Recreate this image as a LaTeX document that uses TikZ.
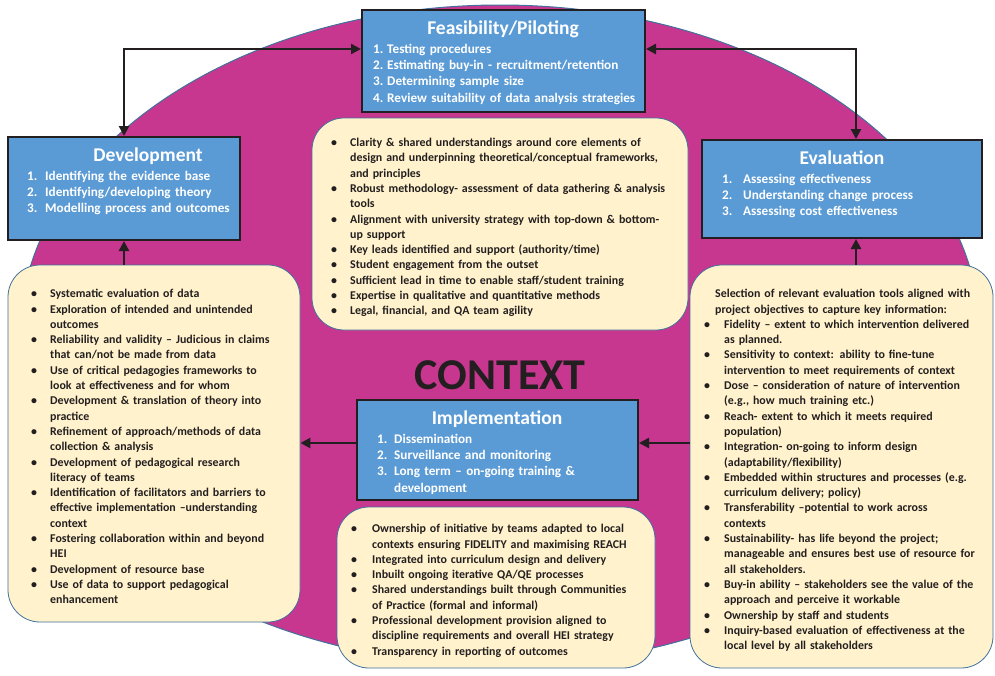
\documentclass[tikz,border=0pt]{standalone}
\usepackage{fontspec}
\setmainfont{Carlito}
\usetikzlibrary{arrows.meta,calc}
\definecolor{ctxmag}{HTML}{C8378F}
\definecolor{boxblue}{HTML}{5B9BD5}
\definecolor{cream}{HTML}{FFF2CC}
\definecolor{edgeblue}{HTML}{41719C}
\definecolor{ink}{HTML}{231F20}
\newcommand\li[3]{\par\noindent\hangindent=#1\hangafter=1\makebox[#1][l]{\strut#2}#3}
\newcommand\nl{\newline\strut}
\newcommand\bul{\hspace*{-4pt}\textbullet}
\tikzset{
  bluebox/.style={draw=ink, line width=2pt, fill=boxblue, rectangle, inner sep=0pt},
  creambox/.style={draw=edgeblue, line width=0.8pt, fill=cream, rectangle, rounded corners=32pt, inner sep=0pt},
  boxtitle/.style={text=white, font={\fontsize{19.5}{22}\selectfont\bfseries}, inner sep=0pt, anchor=base},
  boxitems/.style={text=white, font={\fontsize{13.2}{16.4}\selectfont\bfseries}, inner sep=0pt, anchor=north west, text width=#1},
  creamtext/.style={text=ink, font={\fontsize{11.9}{15.3}\selectfont\bfseries}, inner sep=0pt, anchor=north west, text width=#1},
  conn/.style={draw=ink, line width=2.6pt, -{Triangle[length=10pt,width=10pt]}},
  dconn/.style={draw=ink, line width=2.6pt, {Triangle[length=10pt,width=10pt]}-{Triangle[length=10pt,width=10pt]}}
}
\begin{document}
\begin{tikzpicture}[x=1pt,y=-1pt]
\useasboundingbox (0,0) rectangle (995,675);
\fill[white] (0,0) rectangle (995,675);
% context ellipse
\draw[fill=ctxmag, draw=edgeblue, line width=1pt] (500,335) ellipse [x radius=480pt, y radius=330pt];
\node[font={\fontsize{44}{48}\selectfont\bfseries}, text=ink, anchor=base, inner sep=0pt] (ctx) at (500,389) {CONTEXT};

% blue boxes
\node[bluebox, minimum width=283pt, minimum height=102pt] (feas) at (503.5,61) {};
\node[bluebox, minimum width=232pt, minimum height=103pt] (dev) at (124,188.5) {};
\node[bluebox, minimum width=280pt, minimum height=98pt] (eval) at (842,189) {};
\node[bluebox, minimum width=281pt, minimum height=100pt] (impl) at (497.5,450) {};

\node[boxtitle] (feast) at (503,34) {Feasibility/Piloting};
\node[boxitems=270pt] (feasi) at (373,36.5) {%
\li{14pt}{1.}{Testing procedures}
\li{14pt}{2.}{Estimating buy-in - recruitment/retention}
\li{14pt}{3.}{Determining sample size}
\li{14pt}{4.}{Review suitability of data analysis strategies}\par};

\node[boxtitle] (devt) at (148,161) {Development};
\node[boxitems=210pt] (devi) at (27,163.5) {%
\li{18pt}{1.}{Identifying the evidence base}
\li{18pt}{2.}{Identifying/developing theory}
\li{18pt}{3.}{Modelling process and outcomes}\par};

\node[boxtitle] (evalt) at (842,164) {Evaluation};
\node[boxitems=250pt] (evali) at (722,166.5) {%
\li{21pt}{1.}{Assessing effectiveness}
\li{21pt}{2.}{Understanding change process}
\li{21pt}{3.}{Assessing cost effectiveness}\par};

\node[boxtitle] (implt) at (497,424) {Implementation};
\node[boxitems=255pt] (impli) at (377,426.5) {%
\li{17pt}{1.}{Dissemination}
\li{17pt}{2.}{Surveillance and monitoring}
\li{17pt}{3.}{Long term -- on-going training \&\nl development}\par};

% cream boxes
\node[creambox, minimum width=376pt, minimum height=212pt] (mid) at (500,224) {};
\node[creambox, minimum width=292pt, minimum height=357pt] (left) at (154,443.5) {};
\node[creambox, minimum width=303pt, minimum height=403pt] (right) at (841.5,466.5) {};
\node[creambox, minimum width=318pt, minimum height=161pt] (bot) at (496,587.5) {};

\node[creamtext=345pt] (midt) at (335,131) {%
\li{15pt}{\bul}{Clarity \& shared understandings around core elements of\nl design and underpinning theoretical/conceptual frameworks,\nl and principles}
\li{15pt}{\bul}{Robust methodology- assessment of data gathering \& analysis\nl tools}
\li{15pt}{\bul}{Alignment with university strategy with top-down \& bottom-\nl up support}
\li{15pt}{\bul}{Key leads identified and support (authority/time)}
\li{15pt}{\bul}{Student engagement from the outset}
\li{15pt}{\bul}{Sufficient lead in time to enable staff/student training}
\li{15pt}{\bul}{Expertise in qualitative and quantitative methods}
\li{15pt}{\bul}{Legal, financial, and QA team agility}\par};

\node[creamtext=260pt] (leftt) at (35,282.2) {%
\li{15pt}{\bul}{Systematic evaluation of data}
\li{15pt}{\bul}{Exploration of intended and unintended\nl outcomes}
\li{15pt}{\bul}{Reliability and validity -- Judicious in claims\nl that can/not be made from data}
\li{15pt}{\bul}{Use of critical pedagogies frameworks to\nl look at effectiveness and for whom}
\li{15pt}{\bul}{Development \& translation of theory into\nl practice}
\li{15pt}{\bul}{Refinement of approach/methods of data\nl collection \& analysis}
\li{15pt}{\bul}{Development of pedagogical research\nl literacy of teams}
\li{15pt}{\bul}{Identification of facilitators and barriers to\nl effective implementation --understanding\nl context}
\li{15pt}{\bul}{Fostering collaboration within and beyond\nl HEI}
\li{15pt}{\bul}{Development of resource base}
\li{15pt}{\bul}{Use of data to support pedagogical\nl enhancement}\par};

\node[creamtext=285pt] (rightt) at (708,282.2) {%
\li{7pt}{}{Selection of relevant evaluation tools aligned with\nl project objectives to capture key information:}
\li{16pt}{\bul}{Fidelity -- extent to which intervention delivered\nl as planned.}
\li{16pt}{\bul}{Sensitivity to context: ability to fine-tune\nl intervention to meet requirements of context}
\li{16pt}{\bul}{Dose -- consideration of nature of intervention\nl (e.g., how much training etc.)}
\li{16pt}{\bul}{Reach- extent to which it meets required\nl population)}
\li{16pt}{\bul}{Integration- on-going to inform design\nl (adaptability/flexibility)}
\li{16pt}{\bul}{Embedded within structures and processes (e.g.\nl curriculum delivery; policy)}
\li{16pt}{\bul}{Transferability --potential to work across\nl contexts}
\li{16pt}{\bul}{Sustainability- has life beyond the project;\nl manageable and ensures best use of resource for\nl all stakeholders.}
\li{16pt}{\bul}{Buy-in ability -- stakeholders see the value of the\nl approach and perceive it workable}
\li{16pt}{\bul}{Ownership by staff and students}
\li{16pt}{\bul}{Inquiry-based evaluation of effectiveness at the\nl local level by all stakeholders}\par};

\node[creamtext=300pt] (bott) at (355,517.2) {%
\li{17pt}{\bul}{Ownership of initiative by teams adapted to local\nl contexts ensuring FIDELITY and maximising REACH}
\li{17pt}{\bul}{Integrated into curriculum design and delivery}
\li{17pt}{\bul}{Inbuilt ongoing iterative QA/QE processes}
\li{17pt}{\bul}{Shared understandings built through Communities\nl of Practice (formal and informal)}
\li{17pt}{\bul}{Professional development provision aligned to\nl discipline requirements and overall HEI strategy}
\li{17pt}{\bul}{Transparency in reporting of outcomes}\par};

% connectors
\coordinate (fw) at ([yshift=-40pt]feas.north west);
\coordinate (fe) at ([yshift=-40pt]feas.north east);
\coordinate (evn) at ([xshift=14pt]eval.north);
\coordinate (evs) at ([xshift=14pt]eval.south);
\coordinate (iw) at ([yshift=7pt]impl.west);
\coordinate (ie) at ([yshift=7pt]impl.east);
\draw[dconn] (fw) -| (dev.north);
\draw[dconn] (fe) -| (evn);
\draw[conn] (left.north -| dev.south) -- (dev.south);
\draw[conn] (right.north -| evs) -- (evs);
\draw[conn] (iw) -- (iw -| left.east);
\draw[conn] (ie -| right.west) -- (ie);
\end{tikzpicture}
\end{document}
